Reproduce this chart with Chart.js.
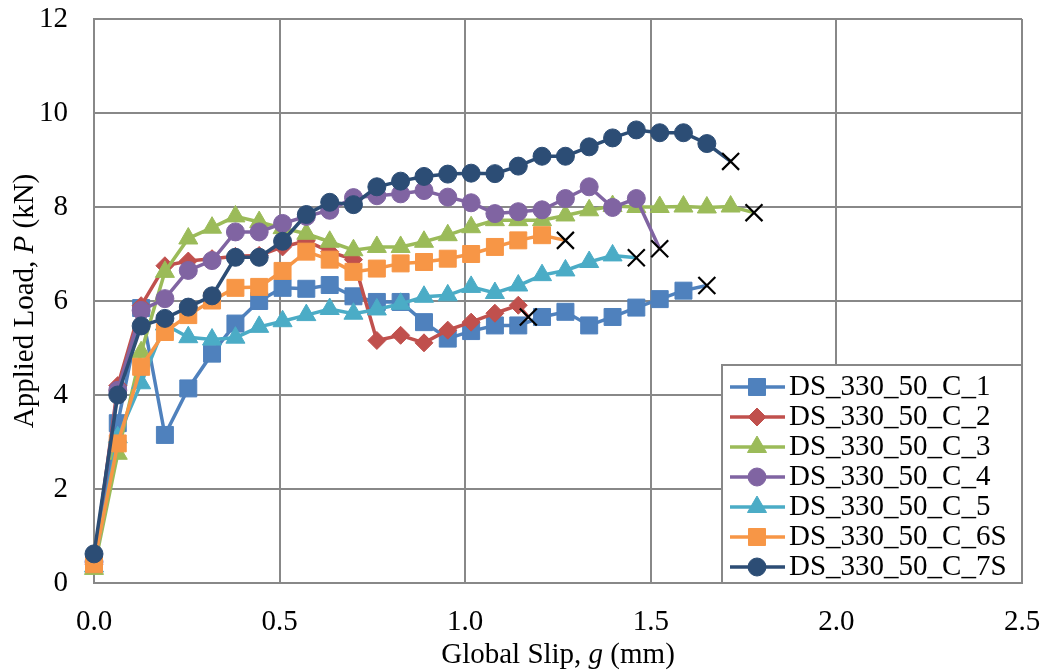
<!DOCTYPE html>
<html>
<head>
<meta charset="utf-8">
<script src="https://cdn.jsdelivr.net/npm/chart.js@4.4.1/dist/chart.umd.min.js"></script>
<style>
  html, body { margin: 0; padding: 0; background: #fff; }
</style>
</head>
<body>
<canvas id="myChart" width="1047" height="672"></canvas>
<script>
// global slip readings (mm), shared by all specimens
const slip = [0.000, 0.064, 0.127, 0.191, 0.254, 0.318, 0.381, 0.445, 0.508, 0.572,
              0.635, 0.699, 0.762, 0.826, 0.889, 0.953, 1.016, 1.080, 1.143, 1.207,
              1.270, 1.334, 1.397, 1.461, 1.524, 1.588, 1.651, 1.715];

// applied load (kN) per specimen, same order as slip
const c1 = [0.45, 3.4, 5.85, 3.15, 4.14, 4.88, 5.52, 6.0, 6.28, 6.26, 6.34, 6.1, 5.98, 5.98,
            5.55, 5.2, 5.36, 5.48, 5.48, 5.66, 5.77, 5.48, 5.66, 5.86, 6.04, 6.22];
const c2 = [0.4, 4.2, 5.9, 6.75, 6.85, 6.9, 6.95, 6.97, 7.15, 7.28, 7.05, 6.88, 5.16, 5.27,
            5.11, 5.38, 5.55, 5.74, 5.91];
const c3 = [0.3, 2.75, 4.91, 6.62, 7.33, 7.56, 7.8, 7.68, 7.55, 7.43, 7.26, 7.08, 7.15, 7.15,
            7.26, 7.4, 7.57, 7.72, 7.72, 7.72, 7.82, 7.93, 8.02, 8.0, 8.0, 8.01, 7.99, 8.01];
const c4 = [0.45, 4.1, 5.8, 6.05, 6.65, 6.86, 7.47, 7.47, 7.65, 7.8, 7.93, 8.2, 8.24, 8.28,
            8.35, 8.21, 8.09, 7.86, 7.9, 7.94, 8.18, 8.43, 7.99, 8.18];
const c5 = [0.35, 3.1, 4.25, 5.5, 5.23, 5.18, 5.22, 5.45, 5.57, 5.7, 5.83, 5.73, 5.82, 5.94,
            6.09, 6.12, 6.3, 6.17, 6.33, 6.55, 6.65, 6.83, 6.97];
const c6 = [0.4, 2.97, 4.6, 5.34, 5.7, 6.01, 6.28, 6.3, 6.64, 7.05, 6.88, 6.62, 6.69, 6.8,
            6.83, 6.9, 7.0, 7.15, 7.29, 7.4];
const c7 = [0.62, 4.0, 5.47, 5.63, 5.87, 6.11, 6.93, 6.93, 7.27, 7.84, 8.1, 8.05, 8.43, 8.55,
            8.65, 8.7, 8.72, 8.71, 8.87, 9.08, 9.08, 9.28, 9.47, 9.64, 9.58, 9.58, 9.35];

// failure points (the X marks)
const failSlip = [1.651, 1.170, 1.778, 1.524, 1.461, 1.270, 1.715];
const failLoad = [6.33, 5.66, 7.88, 7.11, 6.92, 7.29, 8.97];

const names = ['DS_330_50_C_1', 'DS_330_50_C_2', 'DS_330_50_C_3', 'DS_330_50_C_4',
               'DS_330_50_C_5', 'DS_330_50_C_6S', 'DS_330_50_C_7S'];
const loads = [c1, c2, c3, c4, c5, c6, c7];

const colors = ['#4F81BD', '#C0504D', '#9BBB59', '#8064A2', '#4BACC6', '#F79646', '#2C4D75'];
const markers = ['rect', 'rectRot', 'triangle', 'circle', 'triangle', 'rect', 'circle'];
const sizes = [12, 9, 11, 9, 11, 12, 9];

const FONT = '"Liberation Serif", "Times New Roman", serif';
const FONT_SIZE = 29;
const GRID = '#888888';

const datasets = loads.map((load, i) => {
    const pts = load.map((v, j) => ({ x: slip[j], y: v }));
    pts.push({ x: failSlip[i], y: failLoad[i] });
    const last = pts.length - 1;
    return {
        label: names[i],
        data: pts,
        borderColor: colors[i],
        backgroundColor: colors[i],
        borderWidth: 3.5,
        tension: 0,
        clip: false,
        order: loads.length - i,
        pointStyle: c => c.dataIndex === last ? 'crossRot' : markers[i],
        pointRadius: c => c.dataIndex === last ? 12 : sizes[i],
        pointBorderColor: c => c.dataIndex === last ? '#000' : colors[i],
        pointBackgroundColor: colors[i],
        pointBorderWidth: c => c.dataIndex === last ? 2.2 : 1,
    };
});

// draws a line of text made of plain/italic pieces, centred on (cx, cy)
function drawMixed(ctx, parts, cx, cy) {
    const fonts = parts.map(p => (p[1] ? 'italic ' : '') + FONT_SIZE + 'px ' + FONT);
    let total = 0;
    parts.forEach((p, k) => { ctx.font = fonts[k]; total += ctx.measureText(p[0]).width; });
    let x = cx - total / 2;
    ctx.textAlign = 'left';
    ctx.textBaseline = 'middle';
    ctx.fillStyle = '#000';
    parts.forEach((p, k) => {
        ctx.font = fonts[k];
        ctx.fillText(p[0], x, cy);
        x += ctx.measureText(p[0]).width;
    });
}

const axisTitles = {
    id: 'axisTitles',
    afterDraw(chart) {
        const ctx = chart.ctx;
        const a = chart.chartArea;
        ctx.save();
        drawMixed(ctx, [['Global Slip, ', false], ['g', true], [' (mm)', false]], (a.left + a.right) / 2, 655);
        ctx.translate(25, (a.top + a.bottom) / 2);
        ctx.rotate(-Math.PI / 2);
        drawMixed(ctx, [['Applied Load, ', false], ['P', true], [' (kN)', false]], 0, 0);
        ctx.restore();
    }
};

const boxLegend = {
    id: 'boxLegend',
    afterDatasetsDraw(chart) {
        const ctx = chart.ctx;
        const a = chart.chartArea;
        const left = a.right - 300, top = a.bottom - 218;
        ctx.save();
        ctx.fillStyle = '#fff';
        ctx.fillRect(left, top, a.right - left, a.bottom - top);
        ctx.strokeStyle = GRID;
        ctx.lineWidth = 2;
        ctx.strokeRect(left, top, a.right - left, a.bottom - top);
        names.forEach((n, i) => {
            const y = top + 22 + i * 30;
            ctx.strokeStyle = colors[i];
            ctx.fillStyle = colors[i];
            ctx.lineWidth = 3.5;
            ctx.beginPath();
            ctx.moveTo(left + 8, y);
            ctx.lineTo(left + 63, y);
            ctx.stroke();
            ctx.lineWidth = 1;
            Chart.helpers.drawPoint(ctx, { pointStyle: markers[i], radius: sizes[i], borderWidth: 1, rotation: 0 }, left + 35, y);
            ctx.fillStyle = '#000';
            ctx.font = FONT_SIZE + 'px ' + FONT;
            ctx.textAlign = 'left';
            ctx.textBaseline = 'middle';
            ctx.fillText(n, left + 67, y);
        });
        ctx.restore();
    }
};

new Chart(document.getElementById('myChart'), {
    type: 'line',
    data: { datasets: datasets },
    options: {
        responsive: false,
        animation: false,
        layout: { autoPadding: false, padding: { top: 19, right: 25, left: 0, bottom: 0 } },
        plugins: {
            legend: { display: false },
            tooltip: { enabled: false },
        },
        scales: {
            x: {
                type: 'linear',
                min: 0,
                max: 2.5,
                afterFit: s => { s.height = 89; s.paddingLeft = 0; s.paddingRight = 0; },
                ticks: {
                    stepSize: 0.5,
                    autoSkip: false,
                    maxRotation: 0,
                    padding: 22,
                    color: '#000',
                    font: { family: FONT, size: FONT_SIZE },
                    callback: v => v.toFixed(1),
                },
                grid: { color: GRID, lineWidth: 2, drawTicks: false },
                border: { color: GRID, width: 2 },
            },
            y: {
                min: 0,
                max: 12,
                afterFit: s => { s.width = 94; s.paddingTop = 0; s.paddingBottom = 0; },
                ticks: {
                    stepSize: 2,
                    padding: 26,
                    color: '#000',
                    font: { family: FONT, size: FONT_SIZE },
                },
                grid: { color: GRID, lineWidth: 2, drawTicks: false },
                border: { color: GRID, width: 2 },
            },
        },
    },
    plugins: [boxLegend, axisTitles],
});
</script>
</body>
</html>
